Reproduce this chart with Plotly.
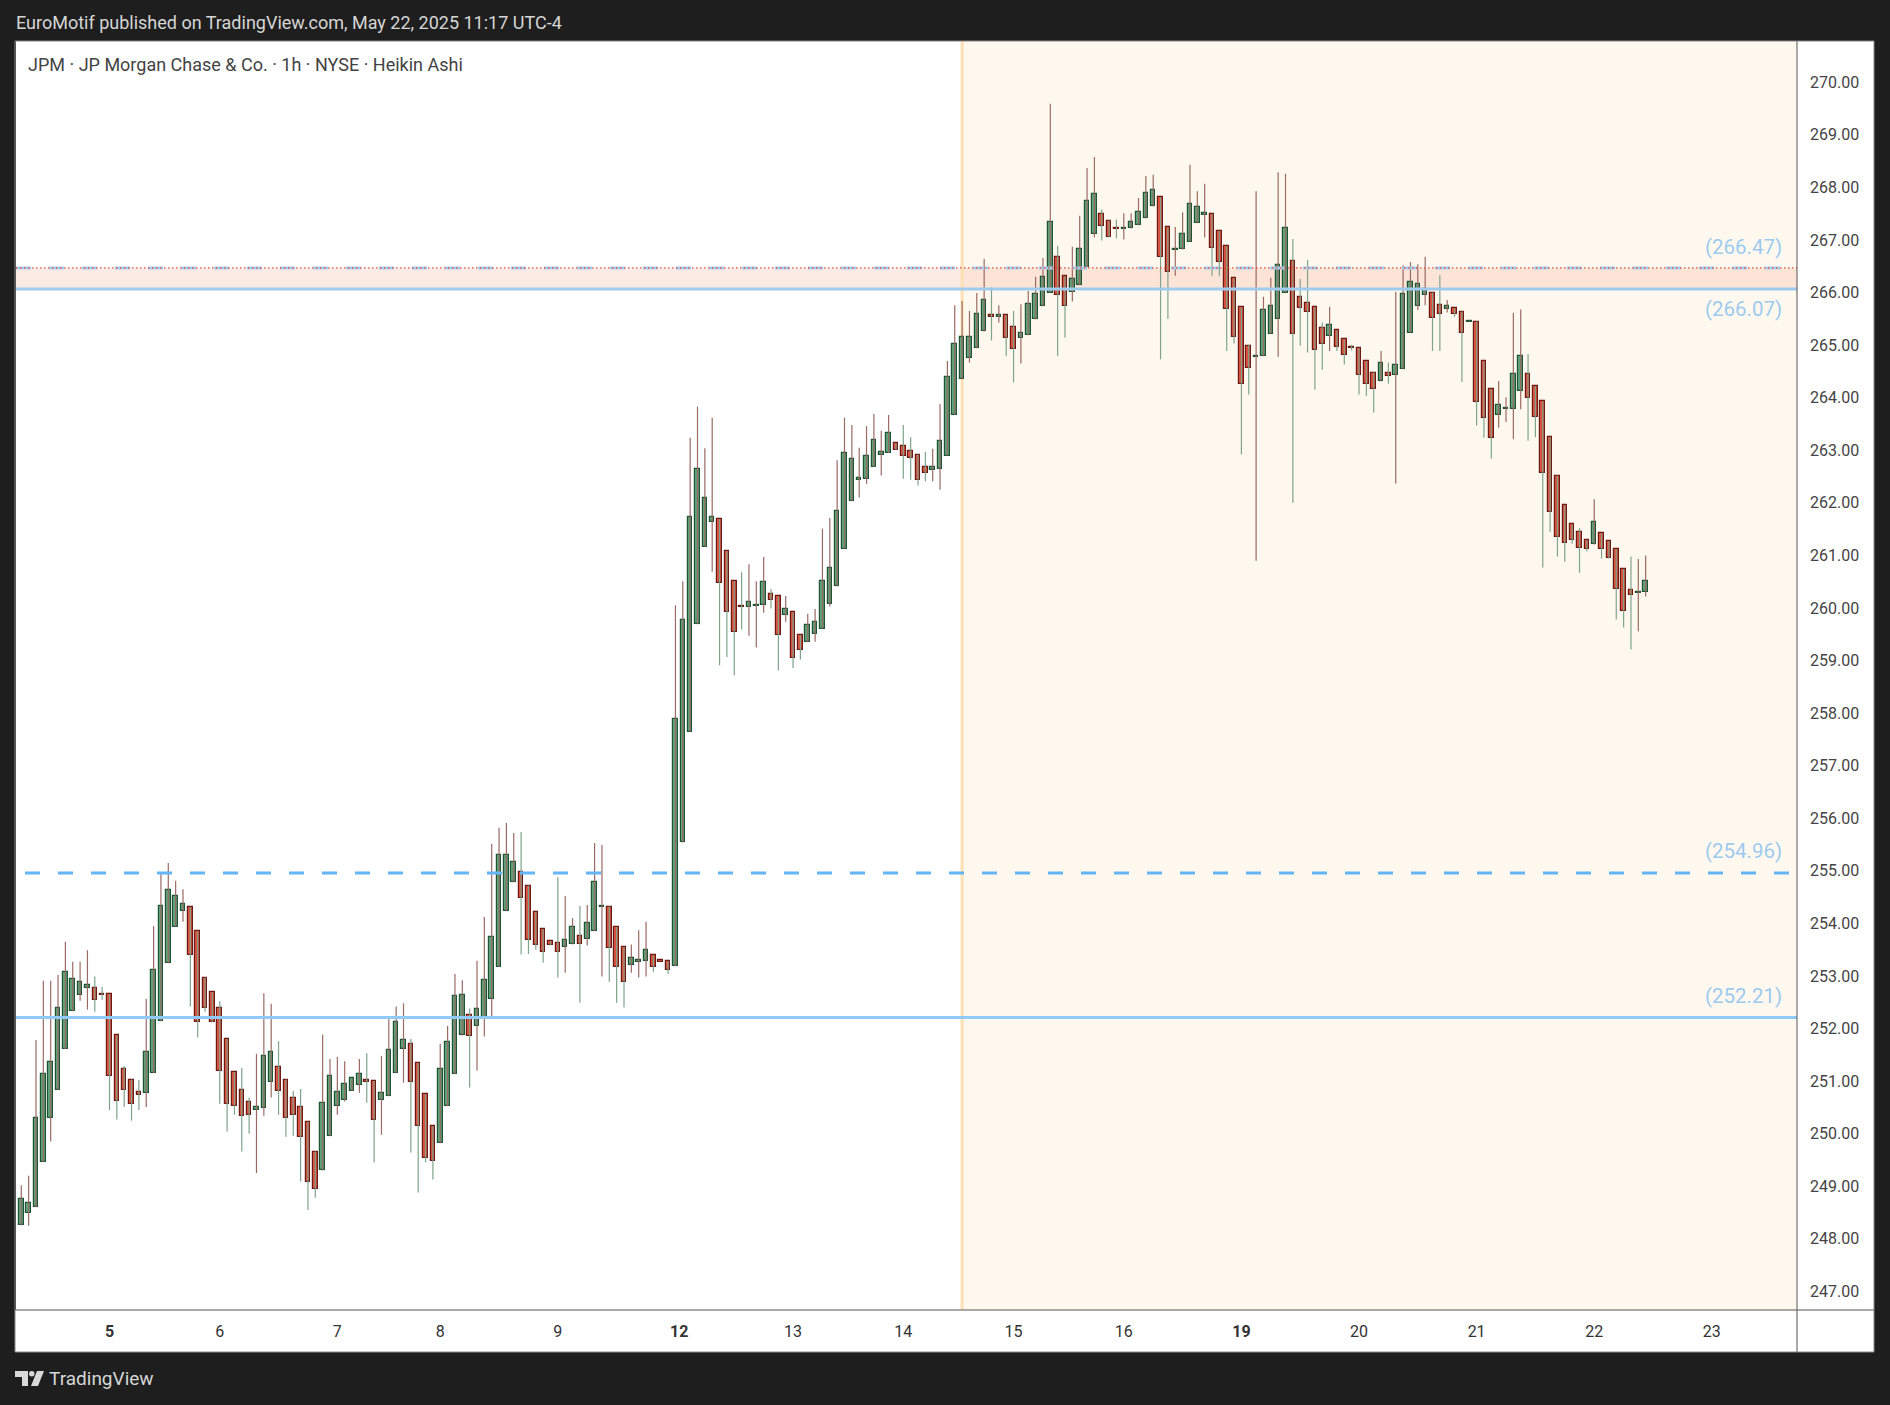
import plotly.graph_objects as go

# ---------------- data (Heikin Ashi, JPM 1h) ----------------
open_ = [248.26, 248.50, 248.60, 249.46, 250.29, 250.83, 251.61, 252.33, 252.63, 252.77,
         252.78, 252.65, 252.65, 251.87, 251.24, 251.03, 250.79, 250.77, 251.15, 252.14,
         253.24, 253.94, 254.23, 254.31, 253.85, 252.97, 252.69, 252.40, 251.80, 251.17,
         250.84, 250.60, 250.46, 250.48, 250.98, 251.26, 251.03, 250.67, 250.50, 250.22,
         249.66, 249.30, 249.95, 250.52, 250.65, 250.81, 250.92, 251.02, 251.00, 250.64,
         250.71, 251.15, 251.62, 251.70, 251.34, 250.75, 250.14, 249.82, 250.52, 251.13,
         251.87, 252.25, 252.04, 252.21, 252.56, 253.17, 254.23, 254.78, 254.97, 254.72,
         254.21, 253.89, 253.66, 253.62, 253.55, 253.60, 253.77, 253.70, 253.85, 254.31,
         254.32, 253.93, 253.55, 253.20, 253.28, 253.28, 253.39, 253.29, 253.28, 253.19,
         255.54, 257.65, 259.69, 261.17, 261.63, 261.69, 261.08, 260.51, 260.04, 260.01,
         260.04, 260.05, 260.26, 260.22, 259.86, 259.92, 259.48, 259.35, 259.50, 259.61,
         260.07, 260.41, 261.13, 262.03, 262.43, 262.45, 262.68, 262.92, 262.95, 263.13,
         263.08, 262.98, 262.92, 262.68, 262.62, 262.65, 262.90, 263.68, 264.35, 264.75,
         264.94, 265.26, 265.57, 265.55, 265.57, 265.34, 265.13, 265.19, 265.49, 265.74,
         266.00, 266.67, 266.31, 266.02, 266.14, 266.48, 267.11, 267.49, 267.37, 267.22,
         267.21, 267.22, 267.28, 267.41, 267.64, 267.81, 267.24, 266.81, 266.82, 266.97,
         267.32, 267.47, 267.49, 267.17, 266.88, 266.27, 265.72, 264.99, 264.77, 264.79,
         265.22, 265.49, 266.00, 266.61, 265.91, 265.81, 265.72, 265.32, 265.17, 265.28,
         265.11, 264.96, 264.94, 264.69, 264.48, 264.31, 264.48, 264.44, 264.54, 265.24,
         265.74, 265.95, 266.00, 265.76, 265.68, 265.70, 265.64, 265.44, 265.45, 264.69,
         264.16, 263.68, 263.79, 263.78, 264.12, 264.46, 264.22, 263.93, 263.25, 262.52,
         261.95, 261.59, 261.44, 261.29, 261.21, 261.42, 261.27, 261.12, 260.74, 260.34,
         260.29, 260.30]
high = [249.02, 249.20, 251.78, 252.91, 252.91, 253.02, 253.65, 253.27, 253.27, 253.49,
        252.99, 252.79, 252.65, 251.87, 251.29, 251.03, 251.02, 252.56, 253.95, 254.95,
        255.15, 254.81, 254.65, 254.31, 253.85, 252.97, 252.69, 252.52, 251.80, 251.17,
        251.25, 250.69, 251.52, 252.67, 252.47, 251.76, 251.03, 250.81, 250.85, 250.22,
        249.66, 251.88, 251.42, 251.46, 251.38, 251.05, 251.42, 251.53, 251.00, 251.48,
        252.20, 252.42, 252.48, 251.80, 251.34, 250.75, 250.14, 251.71, 252.05, 253.04,
        252.92, 252.38, 253.29, 254.12, 255.51, 255.82, 255.91, 255.72, 255.74, 254.72,
        254.21, 253.89, 253.66, 254.88, 254.52, 254.10, 254.33, 254.35, 255.53, 255.49,
        254.32, 253.93, 253.55, 253.60, 253.87, 254.03, 253.39, 253.29, 253.28, 260.05,
        260.51, 263.24, 263.83, 263.04, 263.62, 261.69, 261.08, 260.51, 260.68, 260.83,
        260.51, 260.97, 260.36, 260.22, 260.23, 259.92, 259.48, 259.89, 259.98, 261.51,
        261.71, 262.81, 263.62, 263.48, 263.05, 263.46, 263.69, 263.37, 263.67, 263.13,
        263.48, 263.25, 262.92, 262.97, 263.03, 263.88, 264.70, 265.76, 265.84, 265.65,
        265.99, 266.64, 266.10, 265.76, 265.57, 265.65, 265.78, 266.03, 266.30, 266.66,
        269.59, 266.89, 266.31, 266.87, 267.46, 268.37, 268.58, 267.58, 267.37, 267.39,
        267.51, 267.51, 267.80, 268.22, 268.24, 267.81, 267.24, 267.25, 267.53, 268.43,
        267.93, 268.07, 267.49, 267.17, 266.88, 266.27, 265.72, 265.01, 267.93, 265.92,
        266.28, 268.29, 268.26, 267.02, 266.26, 266.62, 265.72, 265.43, 265.73, 265.28,
        265.11, 265.01, 264.94, 264.69, 264.48, 264.89, 264.67, 266.01, 266.52, 266.58,
        266.54, 266.68, 266.00, 266.33, 265.86, 265.70, 265.64, 265.45, 265.45, 264.69,
        264.16, 264.32, 264.01, 265.61, 265.68, 264.83, 264.22, 263.93, 263.25, 262.52,
        261.95, 261.59, 261.52, 261.29, 262.07, 261.42, 261.27, 261.12, 260.74, 260.98,
        260.93, 261.00]
low = [248.26, 248.25, 248.60, 249.46, 249.85, 250.83, 251.61, 252.33, 252.53, 252.36,
       252.32, 252.55, 250.45, 250.27, 250.51, 250.25, 250.45, 250.51, 251.15, 252.14,
       253.24, 253.94, 254.03, 252.42, 251.83, 252.32, 252.12, 250.57, 250.04, 250.36,
       249.66, 250.00, 249.25, 250.34, 250.69, 250.36, 249.94, 249.96, 249.09, 248.55,
       248.78, 249.30, 249.95, 250.36, 250.61, 250.81, 250.78, 250.59, 249.45, 249.98,
       250.71, 251.15, 250.97, 249.64, 248.88, 249.45, 249.13, 249.82, 250.52, 251.13,
       251.87, 250.88, 251.20, 251.85, 252.23, 253.17, 254.23, 254.78, 253.41, 253.42,
       253.50, 253.25, 253.58, 252.97, 253.06, 253.60, 252.49, 253.58, 253.85, 252.99,
       252.89, 252.49, 252.40, 253.06, 252.97, 252.99, 253.08, 253.28, 253.04, 253.19,
       255.54, 257.65, 259.69, 261.17, 260.69, 258.91, 259.07, 258.72, 259.59, 259.47,
       259.25, 259.91, 259.99, 258.81, 259.74, 258.86, 259.02, 259.35, 259.36, 259.61,
       260.03, 260.41, 261.13, 262.03, 262.10, 262.36, 262.68, 262.52, 262.95, 263.01,
       262.46, 262.44, 262.33, 262.41, 262.41, 262.25, 262.90, 263.68, 264.35, 264.67,
       264.94, 265.26, 265.09, 265.43, 264.80, 264.29, 264.65, 265.19, 265.49, 265.74,
       266.00, 264.80, 265.14, 265.83, 266.14, 266.48, 267.05, 266.99, 267.05, 267.03,
       267.01, 267.22, 267.28, 267.41, 267.64, 264.73, 265.50, 266.32, 266.82, 266.97,
       267.32, 267.05, 266.32, 266.31, 264.89, 265.03, 262.92, 264.06, 260.90, 264.79,
       265.22, 264.78, 266.00, 262.00, 264.99, 264.86, 264.15, 264.53, 264.89, 264.89,
       264.63, 264.90, 264.06, 264.04, 263.72, 264.31, 264.27, 262.37, 264.54, 265.24,
       265.67, 265.76, 264.89, 264.89, 265.62, 265.54, 264.30, 265.44, 263.47, 263.24,
       262.84, 263.43, 263.54, 263.21, 263.78, 263.18, 263.25, 260.77, 261.45, 260.98,
       260.88, 261.22, 260.67, 261.08, 261.21, 260.94, 260.94, 259.78, 259.63, 259.21,
       259.56, 260.22]
close = [248.75, 248.69, 250.29, 251.13, 251.36, 252.39, 253.07, 252.94, 252.88, 252.82,
         252.54, 252.64, 251.09, 250.62, 250.83, 250.56, 250.73, 251.55, 253.11, 254.34,
         254.63, 254.53, 254.36, 253.39, 252.12, 252.40, 252.12, 251.19, 250.56, 250.52,
         250.33, 250.35, 250.50, 251.47, 251.55, 250.81, 250.29, 250.35, 249.93, 249.09,
         248.94, 250.58, 251.09, 250.79, 250.94, 251.05, 251.13, 250.98, 250.26, 250.77,
         251.59, 252.12, 251.78, 250.98, 250.14, 249.53, 249.48, 251.24, 251.74, 252.61,
         252.63, 251.85, 252.37, 252.92, 253.75, 255.31, 255.31, 255.16, 254.48, 253.68,
         253.58, 253.45, 253.58, 253.45, 253.68, 253.93, 253.60, 254.00, 254.78, 254.32,
         253.53, 253.17, 252.88, 253.34, 253.29, 253.49, 253.18, 253.28, 253.11, 257.89,
         259.77, 261.74, 262.65, 262.09, 261.74, 260.47, 259.92, 259.55, 260.03, 260.11,
         260.05, 260.49, 260.16, 259.48, 259.98, 259.04, 259.20, 259.67, 259.73, 260.51,
         260.77, 261.84, 262.94, 262.83, 262.47, 262.90, 263.19, 262.96, 263.32, 263.01,
         262.90, 262.86, 262.44, 262.56, 262.69, 263.17, 264.40, 265.02, 265.15, 265.15,
         265.59, 265.85, 265.53, 265.56, 265.13, 264.92, 265.24, 265.78, 265.97, 266.29,
         267.34, 265.95, 265.74, 266.25, 266.82, 267.74, 267.87, 267.26, 267.05, 267.21,
         267.22, 267.35, 267.54, 267.89, 267.96, 266.67, 266.40, 266.82, 267.11, 267.68,
         267.62, 267.51, 266.84, 266.58, 265.68, 265.15, 264.27, 264.56, 264.80, 265.66,
         265.74, 266.52, 267.22, 265.21, 265.70, 265.64, 264.90, 265.03, 265.38, 264.96,
         264.81, 264.95, 264.43, 264.27, 264.16, 264.67, 264.41, 264.62, 265.97, 266.21,
         266.17, 266.06, 265.51, 265.59, 265.74, 265.59, 265.24, 265.45, 263.91, 263.61,
         263.23, 263.86, 263.80, 264.46, 264.79, 263.99, 263.63, 262.56, 261.82, 261.36,
         261.23, 261.29, 261.15, 261.12, 261.63, 261.12, 260.96, 260.36, 259.94, 260.24,
         260.30, 260.51]
bar_index = list(range(len(open_)))

day_labels = ["5", "6", "7", "8", "9", "12", "13", "14", "15", "16", "19", "20", "21", "22", "23"]
day_first_bar = [12, 27, 43, 57, 73, 89.5, 105, 120, 135, 150, 166, 182, 198, 214, 230]
week_starts = ["5", "12", "19"]
price_ticks = list(range(247, 271))

zone_low, zone_high = 266.07, 266.47
level_dashed = 254.96
level_solid = 252.21
session_start_bar = 128

header_text = "EuroMotif published on TradingView.com, May 22, 2025 11:17 UTC-4"
title_text = "JPM · JP Morgan Chase & Co. · 1h · NYSE · Heikin Ashi"

# ---------------- styling ----------------
W, H = 1890, 1405
L, R, T, B = 16, 1797, 41, 1310
def px(x):
    return (x - L) / (R - L)
def py(y):
    return (B - y) / (B - T)

X_RANGE = [-0.72, 241.59]
Y_RANGE = [246.646, 270.786]
FONT = "Roboto, 'Open Sans', sans-serif"

UP_FILL, UP_LINE, UP_WICK = "#5f9f7a", "#1d5534", "#9a6a64"
DN_FILL, DN_LINE, DN_WICK = "#d8503e", "#6b1a14", "#7fa38c"

fig = go.Figure()

# wicks
wx_up, wy_up, wx_dn, wy_dn = [], [], [], []
for i, o, hi, lo, c in zip(bar_index, open_, high, low, close):
    if c >= o:
        wx_up += [i, i, None]; wy_up += [lo, hi, None]
    else:
        wx_dn += [i, i, None]; wy_dn += [lo, hi, None]
fig.add_trace(go.Scatter(x=wx_up, y=wy_up, mode="lines", line=dict(color=UP_WICK, width=1.2),
                         hoverinfo="skip", showlegend=False))
fig.add_trace(go.Scatter(x=wx_dn, y=wy_dn, mode="lines", line=dict(color=DN_WICK, width=1.2),
                         hoverinfo="skip", showlegend=False))

# bodies
MIN_BODY = 0.02
heights, bases, fills, lines = [], [], [], []
for o, c in zip(open_, close):
    hgt = max(abs(c - o), MIN_BODY)
    mid = (o + c) / 2
    heights.append(hgt)
    bases.append(mid - hgt / 2)
    up = c >= o
    fills.append(UP_FILL if up else DN_FILL)
    lines.append(UP_LINE if up else DN_LINE)
fig.add_trace(go.Bar(x=bar_index, y=heights, base=bases, width=0.62,
                     marker=dict(color=fills, line=dict(color=lines, width=1.2)),
                     hoverinfo="skip", showlegend=False))

shapes = []
# white axis panels
shapes.append(dict(type="rect", xref="paper", yref="paper", x0=px(L - 1), x1=px(1874), y0=py(1352), y1=0,
                   fillcolor="white", line=dict(width=0), layer="below"))
shapes.append(dict(type="rect", xref="paper", yref="paper", x0=1, x1=px(1874), y0=py(1352), y1=1,
                   fillcolor="white", line=dict(width=0), layer="below"))
# session shading and marker line
shapes.append(dict(type="rect", xref="x", yref="paper", x0=session_start_bar, x1=X_RANGE[1], y0=0, y1=1,
                   fillcolor="#fff8ef", line=dict(width=0), layer="below"))
shapes.append(dict(type="rect", xref="paper", yref="y", x0=0, x1=1, y0=zone_low, y1=zone_high,
                   fillcolor="rgba(240,130,100,0.17)", line=dict(width=0), layer="below"))
shapes.append(dict(type="line", xref="x", yref="paper", x0=session_start_bar, x1=session_start_bar, y0=0, y1=1,
                   line=dict(color="#ffe0b2", width=3), layer="below"))
# levels
shapes.append(dict(type="line", xref="paper", yref="y", x0=0, x1=1, y0=level_solid, y1=level_solid,
                   line=dict(color="#90caf9", width=3), layer="above"))
shapes.append(dict(type="line", xref="paper", yref="y", x0=px(25), x1=1, y0=level_dashed, y1=level_dashed,
                   line=dict(color="#64b5f6", width=3, dash="15px,18px"), layer="above"))
shapes.append(dict(type="line", xref="paper", yref="y", x0=0, x1=1, y0=zone_low, y1=zone_low,
                   line=dict(color="#9fcbee", width=3), layer="above"))
shapes.append(dict(type="line", xref="paper", yref="y", x0=0, x1=1, y0=zone_high, y1=zone_high,
                   line=dict(color="#a8cdec", width=3, dash="15px,18px"), layer="above"))
shapes.append(dict(type="line", xref="paper", yref="y", x0=0, x1=1, y0=zone_high, y1=zone_high,
                   line=dict(color="#e04a40", width=1.2, dash="1.5px,2.5px"), layer="above"))
# separators and frame
shapes.append(dict(type="line", xref="paper", yref="paper", x0=1, x1=1, y0=py(1352), y1=1,
                   line=dict(color="#555555", width=1), layer="above"))
shapes.append(dict(type="line", xref="paper", yref="paper", x0=px(L - 1), x1=px(1874), y0=0, y1=0,
                   line=dict(color="#555555", width=1), layer="above"))
shapes.append(dict(type="rect", xref="paper", yref="paper", x0=px(L - 1), x1=px(1874), y0=py(1352), y1=py(T),
                   line=dict(color="#8a8a8a", width=1), fillcolor="rgba(0,0,0,0)", layer="above"))

# TradingView logo (footer)
def path(points):
    return "M" + " L".join(f"{px(x):.5f},{py(y):.5f}" for x, y in points) + " Z"
shapes.append(dict(type="path", xref="paper", yref="paper",
                   path=path([(15, 1371), (28, 1371), (28, 1386), (22, 1386), (22, 1377), (15, 1377)]),
                   fillcolor="#d9d9d9", line=dict(width=0)))
shapes.append(dict(type="circle", xref="paper", yref="paper", x0=px(29), x1=px(34.5), y0=py(1376.5), y1=py(1371),
                   fillcolor="#d9d9d9", line=dict(width=0)))
shapes.append(dict(type="path", xref="paper", yref="paper",
                   path=path([(37, 1371), (44, 1371), (38, 1386), (31, 1386)]),
                   fillcolor="#d9d9d9", line=dict(width=0)))

annotations = []
LABEL_COLOR = "#9dcaf0"
for val, shift in [(zone_high, 21), (zone_low, -20), (level_dashed, 21.5), (level_solid, 21.5)]:
    annotations.append(dict(xref="paper", yref="y", x=px(1784), y=val, yshift=shift, text=f"({val:.2f})",
                            showarrow=False, xanchor="right", yanchor="middle",
                            font=dict(family=FONT, size=20.5, color=LABEL_COLOR)))
annotations.append(dict(xref="paper", yref="paper", x=px(14), y=py(23), text=header_text, showarrow=False,
                        xanchor="left", yanchor="middle", font=dict(family=FONT, size=18, color="#d6d6d6")))
annotations.append(dict(xref="paper", yref="paper", x=px(26), y=py(64), text=title_text, showarrow=False,
                        xanchor="left", yanchor="middle", font=dict(family=FONT, size=18, color="#434343")))
annotations.append(dict(xref="paper", yref="paper", x=px(47), y=py(1378), text="TradingView", showarrow=False,
                        xanchor="left", yanchor="middle", font=dict(family=FONT, size=19, color="#d6d6d6")))

ticktext = [f"<b>{d}</b>" if d in week_starts else d for d in day_labels]

fig.update_layout(
    width=W, height=H, autosize=False,
    margin=dict(l=L, r=W - R, t=T, b=H - B, pad=0),
    paper_bgcolor="#1e1e1e", plot_bgcolor="white",
    showlegend=False, bargap=0, barmode="overlay",
    shapes=shapes, annotations=annotations,
    xaxis=dict(range=X_RANGE, showgrid=False, zeroline=False, showline=False, ticks="",
               tickmode="array", tickvals=day_first_bar, ticktext=ticktext,
               tickfont=dict(family=FONT, size=16, color="#333333"), ticklabelstandoff=10,
               automargin=False, fixedrange=True),
    yaxis=dict(range=Y_RANGE, side="right", showgrid=False, zeroline=False, showline=False, ticks="",
               tickmode="array", tickvals=price_ticks, ticktext=[f"{v:.2f}" for v in price_ticks],
               tickfont=dict(family=FONT, size=16, color="#444444"), ticklabelstandoff=12,
               automargin=False, fixedrange=True),
)

fig.write_html("out.html", config={"displayModeBar": False},
               post_script="document.body.style.margin='0px'; document.body.style.background='#1e1e1e';")
